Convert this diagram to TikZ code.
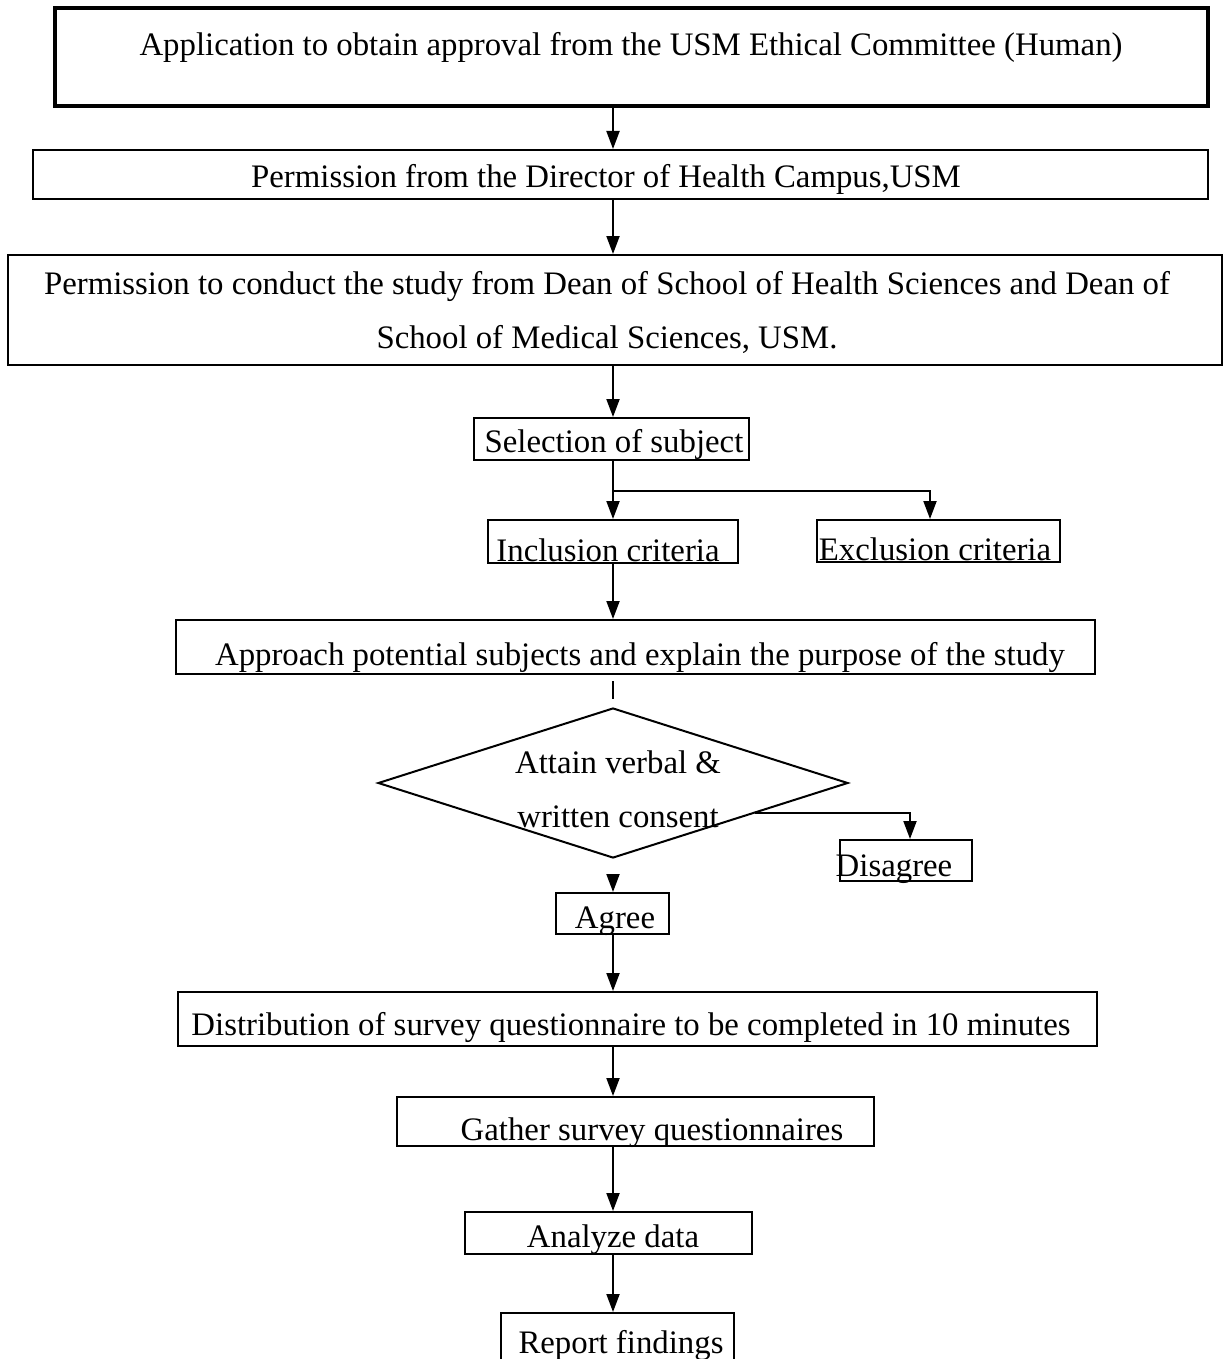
\documentclass[tikz,border=0pt]{standalone}
\usepackage{fontspec}
\setmainfont{Liberation Serif}
\usetikzlibrary{arrows.meta,calc,shapes.geometric}
\begin{document}
\begin{tikzpicture}[x=1pt,y=-1pt,
  box/.style={draw,line width=2pt,rectangle,inner sep=0pt},
  txt/.style={inner sep=0pt,font=\fontsize{32.8}{54}\selectfont,align=center},
  arr/.style={line width=2pt,-{Triangle[length=18pt,width=13pt]}},
  ln/.style={line width=2pt}]
\useasboundingbox (0,0) rectangle (1227,1359);
\clip (0,0) rectangle (1227,1359);
\coordinate (cx) at (613,0);
% boxes
\node[box,line width=4pt,minimum width=1153pt,minimum height=98pt] (n1) at (631.5,57) {};
\node[txt] (t1) at (631,47) {Application to obtain approval from the USM Ethical Committee (Human)};
\node[box,minimum width=1175pt,minimum height=49pt] (n2) at (620.5,174.5) {};
\node[txt] (t2) at (606,179) {Permission from the Director of Health Campus,USM};
\node[box,minimum width=1214pt,minimum height=110pt] (n3) at (615,310) {};
\node[txt] (t3) at (607,312) {Permission to conduct the study from Dean of School of Health Sciences and Dean of\\School of Medical Sciences, USM.};
\node[box,minimum width=275pt,minimum height=42pt] (sel) at (611.5,439) {};
\node[txt] (tsel) at (614,444) {Selection of subject};
\node[box,minimum width=250pt,minimum height=43pt] (inc) at (613,541.5) {};
\node[txt] (tinc) at (608,550) {Inclusion criteria};
\node[box,minimum width=243pt,minimum height=42pt] (exc) at (938.5,541) {};
\node[txt] (texc) at (935,549) {Exclusion criteria};
\node[box,minimum width=919pt,minimum height=54pt] (app) at (635.5,647) {};
\node[txt] (tapp) at (640,657) {Approach potential subjects and explain the purpose of the study};
\node[draw,line width=2pt,diamond,inner sep=0pt,minimum width=470pt,minimum height=150pt] (dia) at (613,783) {};
\node[txt] (tdia) at (618,789) {Attain verbal \&\\written consent};
\node[box,minimum width=132pt,minimum height=41pt] (dis) at (906,860.5) {};
\node[txt] (tdis) at (894,869) {Disagree};
\node[box,minimum width=113pt,minimum height=41pt] (agr) at (612.5,913.5) {};
\node[txt] (tagr) at (615,921) {Agree};
\node[box,minimum width=919pt,minimum height=54pt] (dst) at (637.5,1019) {};
\node[txt] (tdst) at (631,1027) {Distribution of survey questionnaire to be completed in 10 minutes};
\node[box,minimum width=477pt,minimum height=49pt] (gat) at (635.5,1121.5) {};
\node[txt] (tgat) at (652,1133) {Gather survey questionnaires};
\node[box,minimum width=287pt,minimum height=42pt] (ana) at (608.5,1233) {};
\node[txt] (tana) at (613,1240) {Analyze data};
\node[box,minimum width=233pt,minimum height=60pt] (rep) at (617.5,1343) {};
\node[txt] (trep) at (621,1345) {Report findings};
% connectors
\draw[arr] (n1.south -| cx) -- (n2.north -| cx);
\draw[arr] (n2.south -| cx) -- (n3.north -| cx);
\draw[arr] (n3.south -| cx) -- (sel.north -| cx);
\draw[arr] (sel.south -| cx) -- (inc.north -| cx);
\coordinate (br) at (613,491);
\coordinate (bx) at (930,0);
\draw[arr] (br) -| (exc.north -| bx);
\draw[arr] (inc.south -| cx) -- (app.north -| cx);
\draw[ln,shorten <=6pt,shorten >=8pt] (app.south -| cx) -- (dia.north);
\coordinate (dd) at ($(dia.east)!0.4!(dia.south)$);
\coordinate (dx) at (910,0);
\draw[arr] (dd) -| (dis.north -| dx);
\draw[arr,shorten <=15pt] (dia.south) -- (agr.north -| cx);
\draw[arr] (agr.south -| cx) -- (dst.north -| cx);
\draw[arr] (dst.south -| cx) -- (gat.north -| cx);
\draw[arr] (gat.south -| cx) -- (ana.north -| cx);
\draw[arr] (ana.south -| cx) -- (rep.north -| cx);
\end{tikzpicture}
\end{document}
